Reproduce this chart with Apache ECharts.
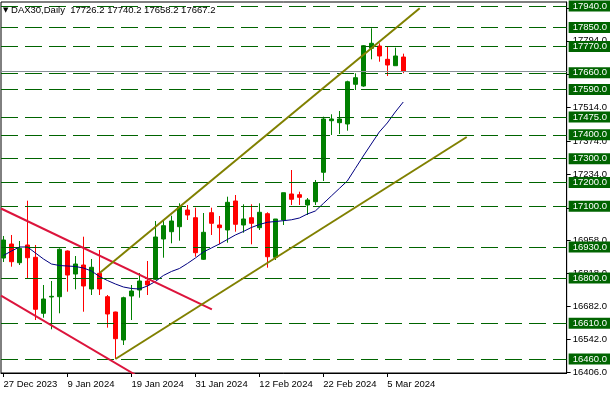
<!DOCTYPE html>
<html><head><meta charset="utf-8">
<script src="https://cdn.jsdelivr.net/npm/echarts@6/dist/echarts.min.js"></script>
<style>html,body{margin:0;padding:0;background:#fff}#c{width:613px;height:396px}</style>
</head><body><div id="c"></div>
<script>
const symbolName = 'DAX30,Daily';
const dates = ['27 Dec 2023','28 Dec 2023','29 Dec 2023',
 '2 Jan 2024','3 Jan 2024','4 Jan 2024','5 Jan 2024','8 Jan 2024','9 Jan 2024','10 Jan 2024','11 Jan 2024','12 Jan 2024',
 '15 Jan 2024','16 Jan 2024','17 Jan 2024','18 Jan 2024','19 Jan 2024','22 Jan 2024','23 Jan 2024','24 Jan 2024','25 Jan 2024',
 '26 Jan 2024','29 Jan 2024','30 Jan 2024','31 Jan 2024',
 '1 Feb 2024','2 Feb 2024','5 Feb 2024','6 Feb 2024','7 Feb 2024','8 Feb 2024','9 Feb 2024','12 Feb 2024','13 Feb 2024',
 '14 Feb 2024','15 Feb 2024','16 Feb 2024','19 Feb 2024','20 Feb 2024','21 Feb 2024','22 Feb 2024','23 Feb 2024','26 Feb 2024',
 '27 Feb 2024','28 Feb 2024','29 Feb 2024',
 '1 Mar 2024','4 Mar 2024','5 Mar 2024','6 Mar 2024','7 Mar 2024'];
const xTickLabels = ['27 Dec 2023','9 Jan 2024','19 Jan 2024','31 Jan 2024','12 Feb 2024','22 Feb 2024','5 Mar 2024'];
const opens = [16883.4,16942.1,16863.7,16938.0,16886.4,16651.6,16720.0,16721.2,16912.8,16816.3,
 16854.1,16753.5,16819.3,16721.2,16657.0,16539.7,16724.2,16749.3,16787.0,16794.2,
 16963.1,16993.7,17014.7,17084.7,17052.4,16878.0,17073.4,17021.8,17000.9,17122.5,
 17021.8,17052.4,17010.5,17069.2,16886.4,17042.8,17151.8,17148.8,17105.7,17119.5,
 17242.8,17459.1,17450.8,17445.3,17611.8,17604.6,17762.7,17772.3,17716.5,17689.7,17726.2];
const closes = [16958.9,16867.9,16924.1,16884.7,16668.4,16711.5,16722.8,16919.9,16812.1,16858.3,
 16766.1,16844.5,16753.5,16648.7,16545.1,16717.0,16745.1,16787.0,16770.3,16971.5,
 17018.9,17038.6,17098.5,17063.7,16905.7,16991.2,17029.0,17010.5,17117.0,17024.8,
 17047.0,17029.0,17075.1,16888.9,17047.0,17157.2,17129.6,17137.9,17126.6,17199.2,
 17466.3,17466.3,17466.3,17622.6,17639.4,17773.6,17783.6,17730.4,17692.6,17730.4,17667.2];
const lows = [16866.7,16847.0,16854.1,16798.3,16623.5,16633.1,16584.5,16651.6,16742.2,16752.2,
 16658.3,16728.3,16728.3,16591.3,16460.0,16518.7,16623.5,16717.0,16728.3,16791.2,
 16884.7,16945.1,16956.0,17042.8,16888.9,16875.1,16979.9,16940.9,16947.6,16993.7,
 16989.5,16940.9,17000.9,16842.8,16875.1,17021.8,17105.7,17105.7,17063.7,17105.7,
 17206.3,17399.2,17403.4,17417.2,17587.8,17601.6,17716.5,17706.5,17646.5,17689.7,17658.2];
const highs = [16975.7,16979.9,16954.7,17123.7,16938.0,16770.3,16787.0,16924.1,16915.0,16891.8,
 16972.8,16879.3,16917.0,16728.3,16658.3,16721.2,16770.3,16820.6,16870.9,17038.6,
 17038.6,17060.8,17112.8,17105.7,17094.4,17072.1,17094.4,17059.6,17140.5,17147.6,
 17108.6,17108.6,17112.8,17075.1,17047.0,17157.2,17252.4,17161.4,17135.0,17210.5,
 17475.9,17486.0,17499.8,17626.8,17657.9,17776.5,17846.5,17783.6,17769.4,17765.2,17740.2];
const ma = [16894.0,16912.8,16929.6,16929.6,16904.4,16879.3,16858.3,16852.0,16849.9,16847.8,
 16841.5,16829.0,16805.9,16789.1,16774.4,16761.9,16755.6,16753.5,16766.1,16785.0,
 16810.1,16826.9,16839.4,16860.4,16883.4,16908.6,16925.4,16942.1,16961.0,16979.9,
 16994.6,17011.4,17023.9,17033.2,17036.5,17039.8,17043.6,17051.1,17067.9,17080.5,
 17111.9,17143.4,17174.8,17206.3,17258.7,17311.1,17361.4,17411.7,17449.5,17495.6,17537.5];
const levels = [17940,17850,17770,17660,17590,17475,17400,17300,17200,17100,16930,16800,16610,16460];
const priceTicks = [16406,16542,16682,16818,16958,17094,17234,17374,17514,17654,17794,17932];
const redUpper = [[-0.3125,17090.9],[26.06,16668.0]];
const redLower = [[-0.3125,16725.4],[16.44,16395.0]];
const oliveUpper = [[12.06,16821.8],[52.06,17930.4]];
const oliveLower = [[14,16460.0],[57.94,17390.8]];

const FONT = "'Liberation Sans', Arial, sans-serif";
const xMin = -0.3125, xMax = 70.4375, yMin = 16401.3, yMax = 17956.8;
const tickIdx = xTickLabels.map(l => dates.indexOf(l));
const candles = opens.map((o, i) => [i, o, closes[i], lows[i], highs[i]]);
const maData = ma.map((v, i) => [i, v]);
const last = opens.length - 1;
const titleText = '{t|\u25BC} ' + symbolName + '  ' +
  [opens[last], highs[last], lows[last], closes[last]].map(v => v.toFixed(1)).join(' ');

const chart = echarts.init(document.getElementById('c'), null, {renderer: 'canvas'});
function trend(d, color) {
  return {type: 'line', data: d, symbol: 'none', silent: true, clip: true, z: 6,
    lineStyle: {color: color, width: 2}, animation: false};
}
chart.setOption({
  animation: false,
  backgroundColor: '#fff',
  title: {text: titleText, left: 3, top: 5, padding: 0,
    textStyle: {fontFamily: FONT, fontSize: 9.5, fontWeight: 'normal', color: '#000',
      rich: {t: {fontSize: 7, color: '#000', fontFamily: 'DejaVu Sans'}}}},
  grid: {left: 1, top: 2, right: 46, bottom: 23, show: true, borderColor: '#000', borderWidth: 1, backgroundColor: '#fff'},
  xAxis: {type: 'value', min: xMin, max: xMax, splitLine: {show: false},
    axisLine: {show: true, onZero: false, lineStyle: {color: '#000'}},
    axisTick: {show: true, customValues: tickIdx, length: 4, lineStyle: {color: '#000'}},
    axisLabel: {customValues: tickIdx, formatter: v => dates[Math.round(v)], align: 'left', margin: 6,
      color: '#000', fontFamily: FONT, fontSize: 9.5}},
  yAxis: [
    {type: 'value', position: 'right', min: yMin, max: yMax, splitLine: {show: false},
      axisLine: {show: true, onZero: false, lineStyle: {color: '#000'}},
      axisTick: {show: true, customValues: priceTicks, length: 4, lineStyle: {color: '#000'}},
      axisLabel: {customValues: priceTicks, formatter: v => v.toFixed(1), margin: 6, color: '#000',
        fontFamily: FONT, fontSize: 9.5}},
    {type: 'value', position: 'right', min: yMin, max: yMax, splitLine: {show: false},
      axisLine: {show: false, onZero: false}, axisTick: {show: false},
      axisLabel: {customValues: levels, formatter: v => v.toFixed(1), margin: 2, color: '#fff',
        backgroundColor: '#006400', padding: [1, 3, 0, 4], fontFamily: FONT, fontSize: 9.5}}
  ],
  series: [
    {type: 'line', data: maData, symbol: 'none', silent: true, z: 1, lineStyle: {opacity: 0},
      markLine: {silent: true, symbol: ['none', 'none'], animation: false, label: {show: false},
        lineStyle: {color: '#006400', type: [17, 7], width: 1},
        data: levels.map(v => ({yAxis: v}))}},
    {type: 'candlestick', data: candles, encode: {x: 0, y: [1, 2, 3, 4]}, barWidth: 5, z: 3,
      itemStyle: {color: '#008000', color0: '#ff0000', borderColor: '#008000', borderColor0: '#ff0000', borderWidth: 1},
      markLine: {silent: true, symbol: ['none', 'none'], animation: false, label: {show: false},
        lineStyle: {color: '#8a9099', type: 'solid', width: 1},
        data: [{yAxis: closes[last]}]}},
    {type: 'line', data: maData, symbol: 'none', silent: true, z: 4, lineStyle: {color: '#000080', width: 1}},
    trend(redUpper, '#dc143c'),
    trend(redLower, '#dc143c'),
    trend(oliveUpper, '#808000'),
    trend(oliveLower, '#808000')
  ]
});
</script></body></html>
